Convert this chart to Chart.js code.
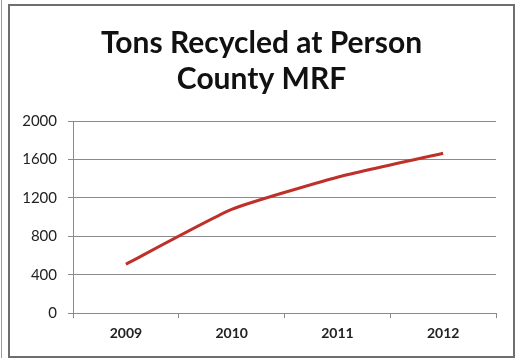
<!DOCTYPE html>
<html>
<head>
<meta charset="utf-8">
<script src="https://cdn.jsdelivr.net/npm/chart.js@4"></script>
<style>
  html, body { margin: 0; padding: 0; background: #fff; }
  body { width: 517px; height: 358px; position: relative; overflow: hidden; }
  .edge { position: absolute; left: 1px; top: 0; width: 1px; height: 358px; background: #9a9a9a; }
  .frame {
    position: absolute; left: 8px; top: 4px;
    width: 503px; height: 350px;
    border: 2px solid #6e6e6e;
  }
  canvas { display: block; }
</style>
</head>
<body>
<div class="edge"></div>
<div class="frame">
  <canvas id="chart" width="503" height="350"></canvas>
</div>
<script>
// data
const years = ["2009", "2010", "2011", "2012"];
const tons = [510, 1080, 1415, 1665];
const yTicks = [0, 400, 800, 1200, 1600, 2000];

// center the title on the whole frame, not on the padded box
const centerTitle = {
    id: "centerTitle",
    afterLayout(chart) {
        if (chart.titleBlock) {
            chart.titleBlock.left = 0;
            chart.titleBlock.right = chart.width;
        }
    }
};

const ctx = document.getElementById("chart");
new Chart(ctx, {
    type: "line",
    data: {
        labels: years,
        datasets: [{
            label: "Tons",
            data: tons,
            borderColor: "#c0302a",
            borderWidth: 3,
            pointRadius: 0,
            tension: 0.15,
            fill: false
        }]
    },
    plugins: [centerTitle],
    options: {
        responsive: false,
        animation: false,
        layout: { padding: { left: 0, right: 17, top: 0, bottom: 7 } },
        plugins: {
            legend: { display: false },
            tooltip: { enabled: false },
            title: {
                display: true,
                text: ["Tons Recycled at Person", "County MRF"],
                color: "#111",
                font: { family: "Lato", size: 30, weight: "bold" },
                lineHeight: 1.2,
                padding: { top: 19, bottom: 24 }
            }
        },
        scales: {
            x: {
                offset: true,
                grid: {
                    offset: true,
                    drawOnChartArea: false,
                    color: "#8a8a8a",
                    tickLength: 5
                },
                border: { color: "#8a8a8a", width: 1 },
                ticks: {
                    color: "#222",
                    padding: 7,
                    font: { family: "Lato", size: 14, weight: "bold" }
                }
            },
            y: {
                min: 0,
                max: 2000,
                afterBuildTicks: (axis) => {
                    axis.ticks = yTicks.map(v => ({ value: v }));
                },
                afterFit: (axis) => { axis.width = 63; },
                grid: { color: "#8a8a8a", tickLength: 5 },
                border: { color: "#8a8a8a", width: 1 },
                ticks: {
                    color: "#222",
                    padding: 11,
                    font: { family: "Lato", size: 15 },
                    callback: (v) => String(v)
                }
            }
        }
    }
});
</script>
</body>
</html>
